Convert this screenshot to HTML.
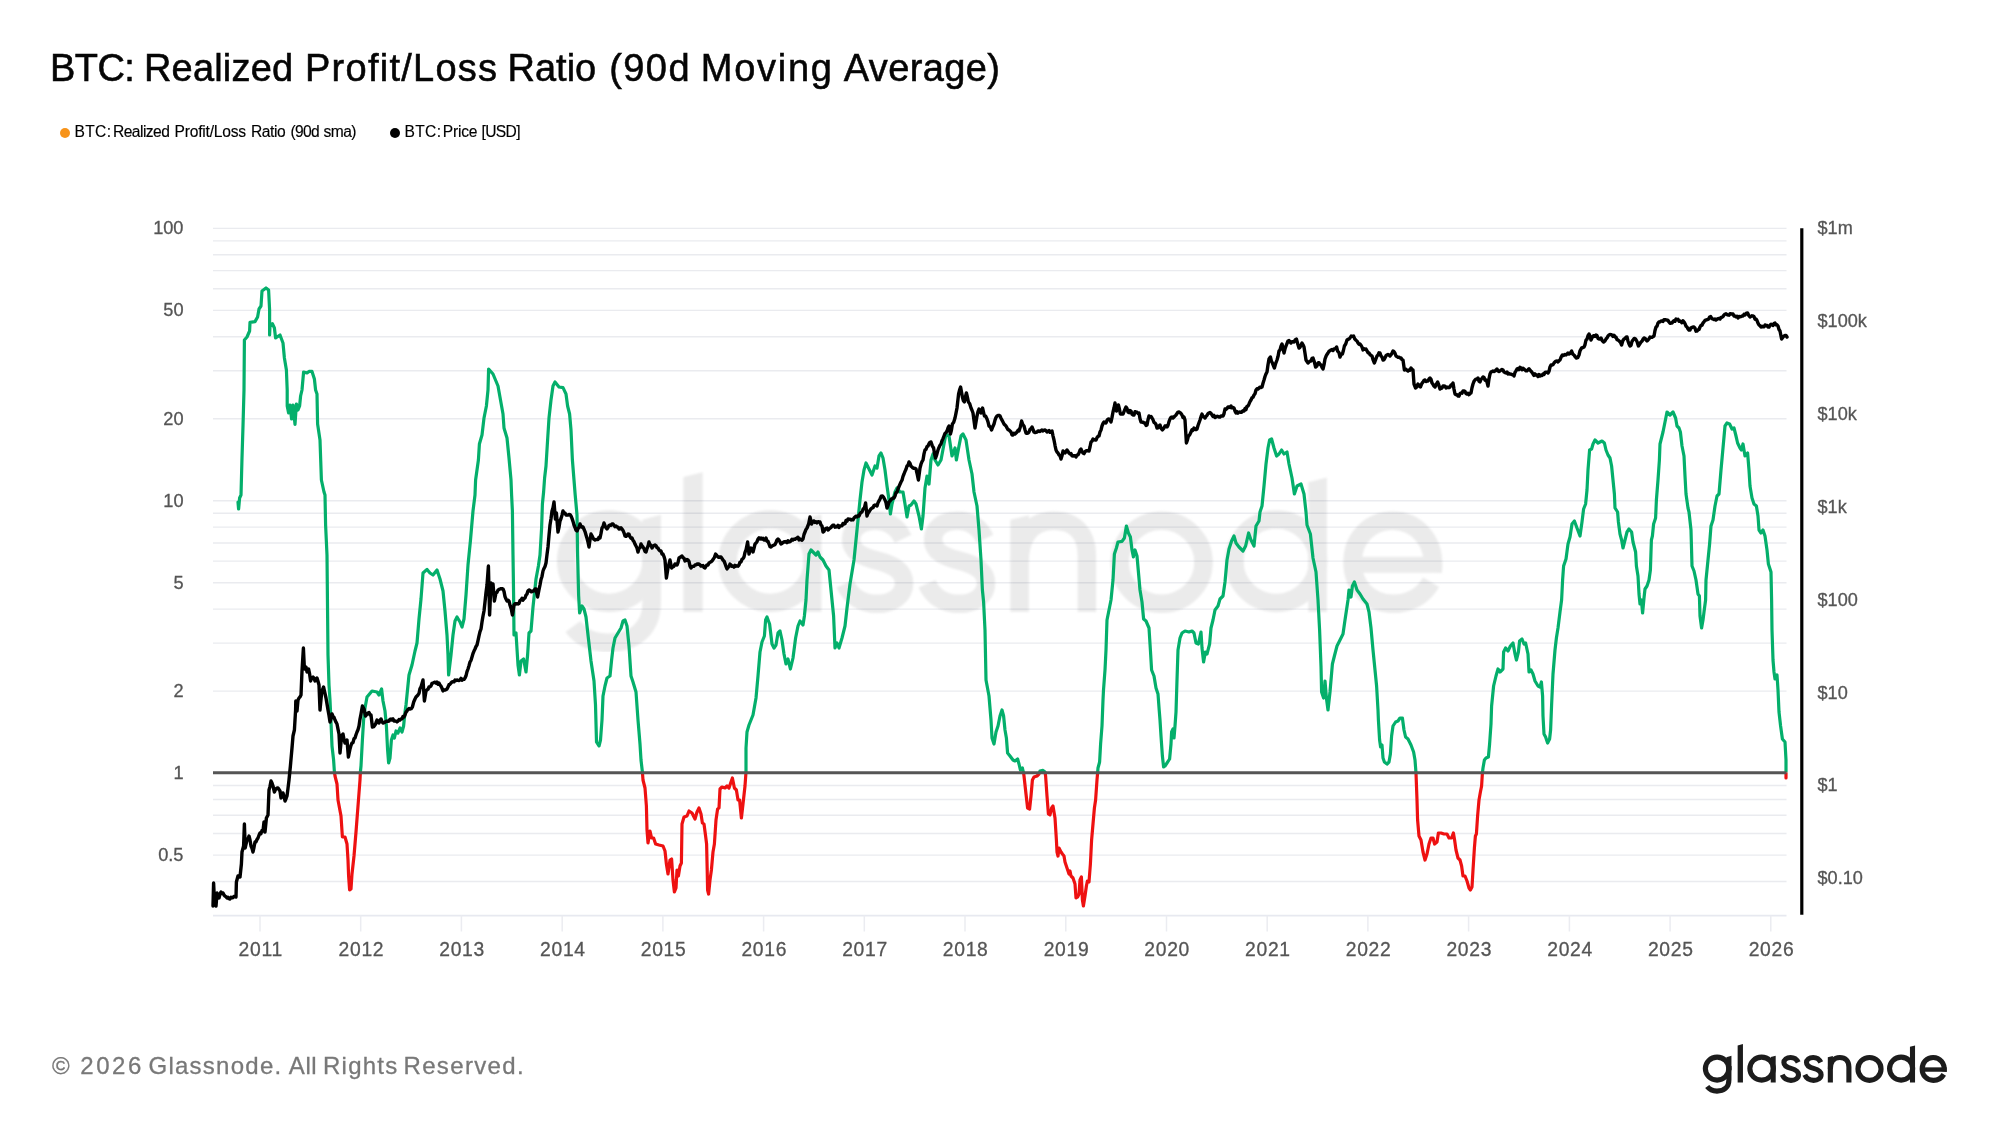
<!DOCTYPE html>
<html><head><meta charset="utf-8"><title>BTC: Realized Profit/Loss Ratio (90d Moving Average)</title>
<style>
html,body{margin:0;padding:0;background:#fff;}
body{width:2000px;height:1125px;position:relative;overflow:hidden;font-family:"Liberation Sans",sans-serif;}
.tw{position:absolute;top:44.4px;font-size:38px;line-height:48px;color:#050505;white-space:nowrap;-webkit-text-stroke:0.55px #050505;}
.lw{position:absolute;top:121.5px;font-size:15.6px;line-height:20px;color:#000;white-space:nowrap;-webkit-text-stroke:0.15px #000;}
.dot{position:absolute;width:10.4px;height:10.4px;border-radius:50%;}
.fw{position:absolute;top:1049.6px;font-size:24px;line-height:32px;color:#787878;white-space:nowrap;-webkit-text-stroke:0.3px #787878;}
#root{position:absolute;left:0;top:0;width:2000px;height:1125px;transform:translateZ(0);will-change:transform;}
svg{position:absolute;left:0;top:0;}
svg text{font-family:"Liberation Sans",sans-serif;}
</style></head>
<body>
<div id="root">
<div id="title"><span class="tw" style="left:50.0px;letter-spacing:-0.583px">BTC:</span><span class="tw" style="left:144.0px;letter-spacing:0.179px">Realized</span><span class="tw" style="left:305.0px;letter-spacing:1.25px">Profit/Loss</span><span class="tw" style="left:507.5px;letter-spacing:0.0px">Ratio</span><span class="tw" style="left:609.25px;letter-spacing:1.417px">(90d</span><span class="tw" style="left:700.75px;letter-spacing:1.75px">Moving</span><span class="tw" style="left:843.75px;letter-spacing:0.393px">Average)</span></div>
<span class="dot" style="left:59.9px;top:127.5px;background:#f7931a"></span>
<div id="leg1"><span class="lw" style="left:74.6px;letter-spacing:0.3px">BTC:</span><span class="lw" style="left:113.0px;letter-spacing:-0.543px">Realized</span><span class="lw" style="left:174.6px;letter-spacing:-0.21px">Profit/Loss</span><span class="lw" style="left:250.9px;letter-spacing:-0.425px">Ratio</span><span class="lw" style="left:290.6px;letter-spacing:-0.7px">(90d</span><span class="lw" style="left:323.4px;letter-spacing:-0.5px">sma)</span></div>
<span class="dot" style="left:390px;top:127.5px;background:#000"></span>
<div id="leg2"><span class="lw" style="left:404.5px;letter-spacing:0.333px">BTC:</span><span class="lw" style="left:442.75px;letter-spacing:-0.188px">Price</span><span class="lw" style="left:481.5px;letter-spacing:-0.625px">[USD]</span></div>
<svg width="2000" height="1125" viewBox="0 0 2000 1125">
<defs>
 <clipPath id="cg"><rect x="0" y="0" width="2000" height="772.6"/></clipPath>
 <clipPath id="cr"><rect x="0" y="772.6" width="2000" height="400"/></clipPath>
 <filter id="blur" x="-5%" y="-5%" width="110%" height="110%"><feGaussianBlur stdDeviation="0.25"/></filter>
 
<g id="gn" fill="none" stroke="currentColor" stroke-width="5.1" stroke-linecap="butt" stroke-linejoin="round">
 <!-- g -->
 <ellipse cx="1717.1" cy="1068.6" rx="11.75" ry="11.5"/>
 <path d="M1728.9 1066 V1080 C1728.9 1087.6 1723.6 1091.1 1717 1091.1 C1712.6 1091.1 1709.4 1089.6 1707.2 1086.6"/>
 <path fill="currentColor" stroke="none" d="M1726.35 1057.2 L1731.45 1055.8 V1070 H1726.35 Z"/>
 <!-- l -->
 <path fill="currentColor" stroke="none" d="M1737.65 1045.4 L1742.95 1044.1 V1082.6 H1737.65 Z"/>
 <!-- a -->
 <ellipse cx="1761.6" cy="1068.6" rx="11.75" ry="11.5"/>
 <path fill="currentColor" stroke="none" d="M1770.75 1057.0 L1775.7 1055.7 V1082.6 H1770.75 Z"/>
 <!-- s s -->
 <path id="gs" d="M1798.2 1062.4 C1796.6 1059 1794 1057.45 1790.6 1057.45 C1786.6 1057.45 1783.9 1059.6 1783.9 1062.6 C1783.9 1066 1787 1067.4 1791 1068.4 C1795.6 1069.6 1798.5 1071.2 1798.5 1074.7 C1798.5 1078 1795.4 1080.35 1791 1080.35 C1787 1080.35 1783.8 1078.4 1782.2 1074.8"/>
 <use href="#gs" x="22.6"/>
 <!-- n -->
 <path fill="currentColor" stroke="none" d="M1827.8 1057.2 L1832.9 1055.9 V1082.6 H1827.8 Z"/>
 <path d="M1830.35 1069 C1830.35 1061.5 1834 1057.45 1839.8 1057.45 C1845.4 1057.45 1848.9 1061 1848.9 1067 V1082.6"/>
 <!-- o -->
 <ellipse cx="1869.5" cy="1068.9" rx="11.55" ry="11.45"/>
 <!-- d -->
 <ellipse cx="1901.1" cy="1068.6" rx="11.55" ry="11.5"/>
 <path fill="currentColor" stroke="none" d="M1909.95 1046.8 L1915.05 1045.5 V1082.6 H1909.95 Z"/>
 <!-- e -->
 <path stroke-width="4.4" d="M1922.2 1069.55 H1946.6"/>
 <path d="M1944.25 1071.6 C1945.2 1063 1939.8 1057.45 1933.2 1057.45 C1926.8 1057.45 1922.15 1062.4 1922.15 1068.9 C1922.15 1075.4 1926.8 1080.35 1933.4 1080.35 C1937.8 1080.35 1941.6 1078.2 1943.8 1074.4"/>
</g>
</defs>
<!-- watermark -->
<g transform="translate(-5619.07 -3314.59) scale(3.627)"><use href="#gn" color="#ebebeb" filter="url(#blur)"/></g>
<!-- grid -->
<g stroke="rgba(30,40,90,0.095)" stroke-width="1.4"><line x1="213.0" x2="1786.5" y1="228.40" y2="228.40"/><line x1="213.0" x2="1786.5" y1="240.86" y2="240.86"/><line x1="213.0" x2="1786.5" y1="254.79" y2="254.79"/><line x1="213.0" x2="1786.5" y1="270.59" y2="270.59"/><line x1="213.0" x2="1786.5" y1="288.82" y2="288.82"/><line x1="213.0" x2="1786.5" y1="310.39" y2="310.39"/><line x1="213.0" x2="1786.5" y1="336.78" y2="336.78"/><line x1="213.0" x2="1786.5" y1="370.81" y2="370.81"/><line x1="213.0" x2="1786.5" y1="418.76" y2="418.76"/><line x1="213.0" x2="1786.5" y1="500.75" y2="500.75"/><line x1="213.0" x2="1786.5" y1="513.21" y2="513.21"/><line x1="213.0" x2="1786.5" y1="527.14" y2="527.14"/><line x1="213.0" x2="1786.5" y1="542.94" y2="542.94"/><line x1="213.0" x2="1786.5" y1="561.17" y2="561.17"/><line x1="213.0" x2="1786.5" y1="582.74" y2="582.74"/><line x1="213.0" x2="1786.5" y1="609.13" y2="609.13"/><line x1="213.0" x2="1786.5" y1="643.16" y2="643.16"/><line x1="213.0" x2="1786.5" y1="691.11" y2="691.11"/><line x1="213.0" x2="1786.5" y1="785.56" y2="785.56"/><line x1="213.0" x2="1786.5" y1="799.49" y2="799.49"/><line x1="213.0" x2="1786.5" y1="815.29" y2="815.29"/><line x1="213.0" x2="1786.5" y1="833.52" y2="833.52"/><line x1="213.0" x2="1786.5" y1="855.09" y2="855.09"/><line x1="213.0" x2="1786.5" y1="881.48" y2="881.48"/></g>
<line x1="213.0" x2="1786.5" y1="915.6" y2="915.6" stroke="#e7e9f0" stroke-width="1.9"/>
<g stroke="#ebecf1" stroke-width="1.5"><line x1="260.0" x2="260.0" y1="915.5" y2="931.5"/><line x1="360.7" x2="360.7" y1="915.5" y2="931.5"/><line x1="461.4" x2="461.4" y1="915.5" y2="931.5"/><line x1="562.2" x2="562.2" y1="915.5" y2="931.5"/><line x1="662.9" x2="662.9" y1="915.5" y2="931.5"/><line x1="763.6" x2="763.6" y1="915.5" y2="931.5"/><line x1="864.3" x2="864.3" y1="915.5" y2="931.5"/><line x1="965.0" x2="965.0" y1="915.5" y2="931.5"/><line x1="1065.8" x2="1065.8" y1="915.5" y2="931.5"/><line x1="1166.5" x2="1166.5" y1="915.5" y2="931.5"/><line x1="1267.2" x2="1267.2" y1="915.5" y2="931.5"/><line x1="1367.9" x2="1367.9" y1="915.5" y2="931.5"/><line x1="1468.6" x2="1468.6" y1="915.5" y2="931.5"/><line x1="1569.4" x2="1569.4" y1="915.5" y2="931.5"/><line x1="1670.1" x2="1670.1" y1="915.5" y2="931.5"/><line x1="1770.8" x2="1770.8" y1="915.5" y2="931.5"/></g>
<!-- ratio -->
<polyline clip-path="url(#cg)" points="238.0,502.0 238.6,509.0 239.6,498.0 241.0,495.0 242.0,458.0 243.0,426.0 244.0,390.0 244.4,340.0 247.0,337.0 249.6,331.0 250.0,322.4 255.0,321.6 257.6,317.0 259.0,309.0 261.0,306.0 262.0,291.0 266.0,288.0 268.6,290.0 269.6,310.0 269.6,335.0 270.0,326.0 272.4,323.6 274.4,328.0 275.6,338.0 280.0,335.0 283.0,343.0 284.4,358.0 286.4,370.0 287.2,390.0 287.2,406.0 288.6,413.0 290.0,405.0 291.6,419.0 293.0,405.0 295.0,424.4 296.4,404.0 298.0,410.0 299.6,406.0 300.6,396.0 302.0,390.0 303.6,372.0 307.0,373.0 309.0,371.4 312.0,371.4 314.4,379.0 315.6,390.0 317.0,394.0 317.6,424.0 320.0,440.0 321.4,480.0 324.0,492.0 325.0,495.0 325.6,525.0 327.0,555.0 327.6,615.0 328.0,655.0 329.0,685.0 330.0,700.0 331.0,722.0 332.0,746.0 333.6,760.0 334.4,772.0 335.0,776.0 337.0,784.0 338.0,800.0 341.0,816.0 342.4,837.0 345.0,837.0 347.0,844.0 348.0,860.0 348.6,876.0 349.6,890.0 351.0,889.0 352.0,874.0 354.0,856.0 356.0,832.0 358.0,806.0 360.0,780.0 360.4,772.0 361.0,766.0 362.4,740.0 363.6,720.0 365.0,708.0 367.0,697.0 372.0,691.0 377.0,692.0 379.0,695.0 381.6,689.0 383.0,701.0 385.0,711.0 386.4,726.0 387.6,750.0 388.6,763.0 390.0,758.0 391.4,740.0 393.0,735.0 394.4,738.0 396.0,731.0 398.0,733.0 400.0,728.0 402.0,732.0 403.6,726.0 405.0,712.0 406.0,705.0 409.0,675.0 412.0,665.0 415.0,651.0 417.0,643.0 419.0,619.0 421.0,599.0 423.0,573.0 427.0,569.4 430.0,573.0 433.0,575.0 437.0,570.0 440.0,579.0 443.0,591.0 445.0,611.0 447.0,635.0 448.0,655.0 448.6,675.0 451.0,655.0 453.0,635.0 455.0,621.0 457.0,617.0 460.0,622.0 462.0,627.0 464.0,619.0 466.0,595.0 468.0,565.0 470.4,541.0 473.0,511.0 475.0,495.0 475.6,480.0 478.4,460.0 479.4,444.0 482.0,435.0 484.0,418.0 486.4,406.0 488.0,390.0 488.6,369.0 493.0,374.0 498.0,386.0 503.0,414.0 504.0,428.0 507.0,438.0 509.0,458.0 511.0,480.0 511.6,495.0 512.4,511.0 513.0,555.0 513.6,595.0 514.0,635.0 516.0,633.0 518.0,665.0 519.4,675.0 521.0,661.0 523.6,659.0 526.0,672.0 527.6,655.0 529.0,633.0 531.0,631.0 533.0,607.0 536.0,579.0 538.4,566.0 540.0,555.0 541.6,528.0 542.4,504.0 543.6,492.0 544.6,478.0 546.0,466.0 547.6,440.0 549.0,418.0 551.0,400.0 553.0,386.0 555.0,382.0 559.0,387.0 563.0,387.6 566.0,394.0 567.6,406.0 569.6,414.0 571.0,430.0 572.4,460.0 574.0,480.0 575.2,495.0 577.0,515.0 577.6,555.0 578.6,595.0 579.6,613.0 582.0,606.0 584.0,609.0 586.0,617.0 588.0,635.0 591.0,661.0 594.0,681.0 595.5,705.0 596.5,742.0 599.0,746.0 600.5,740.0 602.0,720.0 603.0,696.0 605.0,686.0 607.0,678.0 610.0,676.0 611.6,660.0 613.0,648.0 615.0,638.0 618.0,633.0 621.0,628.0 623.0,621.0 625.0,620.0 627.0,626.0 629.0,646.0 631.0,676.0 633.0,682.0 636.0,692.0 638.0,720.0 640.0,744.0 641.0,760.0 642.4,772.0 643.0,780.0 645.0,788.0 646.4,806.0 647.0,830.0 648.0,843.0 650.0,831.0 651.6,838.0 653.6,838.0 655.6,844.0 659.0,845.0 663.0,846.0 665.0,851.0 666.4,864.0 668.0,874.0 670.0,860.0 671.6,859.0 673.0,880.0 674.4,892.0 676.0,888.0 677.0,870.0 678.4,876.0 680.0,866.0 681.4,863.0 682.0,824.0 684.0,817.0 687.0,816.0 689.0,811.0 692.0,813.0 695.0,819.0 697.0,812.0 699.0,808.0 701.0,814.0 702.4,823.0 704.0,824.0 705.6,836.0 706.6,844.0 707.2,870.0 707.6,890.0 708.6,894.0 710.0,880.0 711.4,870.0 713.0,852.0 714.4,844.0 716.0,820.0 717.6,809.0 719.0,808.0 720.0,789.0 722.0,787.0 725.0,788.0 727.0,786.0 729.0,788.0 731.0,782.0 732.4,778.0 734.4,788.0 736.4,790.0 738.0,800.0 739.6,800.0 741.4,818.0 743.0,804.0 745.0,786.0 746.0,772.0 746.0,748.0 747.0,732.0 749.0,725.0 753.0,715.0 756.0,698.0 758.0,676.0 760.0,652.0 762.0,642.0 764.4,636.0 765.6,620.0 767.0,617.0 769.6,624.0 772.0,644.0 774.0,648.0 776.0,645.0 778.0,633.0 780.0,631.0 782.0,640.0 784.0,654.0 786.0,664.0 788.0,659.0 790.4,669.0 793.0,658.0 795.6,638.0 798.0,626.0 800.0,621.0 803.0,625.0 804.4,616.0 806.0,600.0 807.0,580.0 809.0,554.0 811.0,550.0 814.0,553.0 816.0,555.0 818.0,552.0 820.0,557.0 823.0,560.0 826.0,566.0 829.0,570.0 831.0,590.0 832.0,600.0 833.6,616.0 835.0,648.0 837.0,643.0 839.0,648.0 842.0,638.0 845.0,626.0 847.0,608.0 850.0,584.0 854.0,560.0 856.0,540.0 858.0,520.0 860.0,500.0 862.0,482.0 864.0,470.0 866.0,463.0 869.0,469.0 872.0,475.0 875.0,466.0 877.0,468.0 879.0,456.0 881.0,453.0 883.0,458.0 885.0,470.0 887.0,486.0 889.0,500.0 890.4,514.0 892.0,504.0 895.0,492.0 897.0,488.0 900.0,492.0 903.0,492.0 905.0,504.0 907.0,517.0 909.0,506.0 911.0,505.0 914.0,501.0 916.0,504.0 919.0,516.0 921.4,529.0 923.0,516.0 925.0,488.0 927.0,476.0 929.0,484.0 931.0,460.0 933.0,454.0 935.0,460.0 938.0,465.0 941.0,460.0 944.0,444.0 946.0,434.0 949.0,436.0 952.0,456.0 955.0,448.0 956.4,460.0 959.0,446.0 961.0,436.0 963.0,434.0 966.0,440.0 969.0,460.0 972.0,474.0 974.0,492.0 977.0,506.0 979.0,530.0 981.0,560.0 982.4,590.0 983.6,602.0 985.0,630.0 986.0,680.0 989.0,696.0 991.0,720.0 992.0,738.0 994.0,744.0 996.0,732.0 998.0,726.0 1000.0,716.0 1002.0,710.0 1003.6,716.0 1005.0,730.0 1006.4,738.0 1007.6,753.0 1010.0,756.0 1013.0,760.0 1015.0,761.0 1017.6,759.0 1019.0,764.0 1020.4,770.0 1022.4,768.0 1023.6,773.0 1024.0,776.0 1026.0,794.0 1027.6,808.0 1029.6,809.0 1031.0,796.0 1032.4,780.0 1034.0,777.0 1037.0,776.0 1039.0,774.0 1040.0,771.0 1043.0,770.4 1045.0,772.0 1045.6,776.0 1047.0,796.0 1048.4,814.0 1050.0,815.0 1051.6,808.0 1053.0,806.0 1055.0,818.0 1056.4,840.0 1057.0,852.0 1058.0,856.0 1059.0,848.0 1061.0,852.0 1062.4,854.0 1064.0,856.0 1065.0,862.0 1067.0,868.0 1069.0,874.0 1070.0,871.0 1071.0,876.0 1073.0,878.0 1075.0,884.0 1076.0,898.0 1077.6,897.0 1079.0,894.0 1080.0,880.0 1081.4,877.0 1082.4,900.0 1083.4,906.0 1085.0,896.0 1086.4,886.0 1087.4,881.0 1089.0,882.0 1090.4,864.0 1091.6,840.0 1093.0,824.0 1094.4,808.0 1095.6,800.0 1097.0,780.0 1097.6,773.0 1098.0,768.0 1099.6,762.0 1100.6,744.0 1102.0,726.0 1103.0,700.0 1103.5,690.0 1105.0,670.0 1106.0,650.0 1107.0,620.0 1109.0,610.0 1111.0,600.0 1113.0,580.0 1114.4,554.0 1116.4,548.0 1118.0,542.0 1122.0,541.4 1124.4,538.0 1126.4,526.0 1128.4,533.0 1130.4,537.0 1132.0,550.0 1133.4,557.0 1135.0,550.0 1137.0,556.0 1138.6,574.0 1140.0,590.0 1142.0,602.0 1143.6,619.0 1146.0,621.0 1149.0,628.0 1150.4,650.0 1151.6,670.0 1154.0,676.0 1156.0,688.0 1158.0,694.0 1159.2,710.0 1160.0,720.0 1161.0,736.0 1162.4,756.0 1163.6,767.0 1165.0,766.0 1167.0,763.0 1169.6,759.0 1171.0,744.0 1171.6,732.0 1173.0,729.0 1174.0,738.0 1175.0,726.0 1176.0,712.0 1177.0,680.0 1178.0,650.0 1180.0,638.0 1182.0,633.0 1185.0,631.0 1189.0,632.0 1192.0,631.0 1194.0,633.0 1196.0,643.0 1198.4,644.0 1201.0,632.0 1202.0,648.0 1203.6,662.0 1205.4,652.0 1207.0,654.0 1209.6,644.0 1211.0,628.0 1213.0,620.0 1215.0,610.0 1218.0,606.0 1220.0,599.0 1223.0,596.0 1225.0,582.0 1227.0,560.0 1229.0,549.0 1231.6,541.0 1234.0,536.0 1236.0,543.0 1239.0,547.0 1243.0,551.0 1245.6,546.0 1248.6,533.0 1251.0,540.0 1254.0,546.0 1256.0,526.0 1259.0,521.0 1260.0,512.0 1262.0,506.0 1264.0,486.0 1266.0,464.0 1268.0,448.0 1269.6,440.0 1271.6,439.0 1274.0,448.0 1276.6,456.0 1279.0,454.0 1281.6,450.0 1284.0,454.0 1287.0,452.0 1289.0,464.0 1292.0,478.0 1294.4,494.0 1297.0,486.0 1301.0,484.0 1304.0,494.0 1306.0,512.0 1307.0,525.0 1310.4,534.0 1313.0,558.0 1316.0,572.0 1318.0,600.0 1319.6,630.0 1321.0,666.0 1321.6,692.0 1323.6,698.0 1325.0,681.0 1326.4,698.0 1328.0,710.0 1330.0,692.0 1332.4,664.0 1334.4,656.0 1337.0,646.0 1340.0,640.0 1343.0,634.0 1345.0,620.0 1348.0,600.0 1349.0,590.0 1351.0,597.0 1352.4,586.0 1354.4,582.0 1357.0,590.0 1360.0,594.0 1363.0,599.0 1367.0,604.0 1369.0,612.0 1371.0,628.0 1373.0,650.0 1375.0,670.0 1376.6,686.0 1378.0,710.0 1378.4,720.0 1379.6,740.0 1380.6,747.0 1382.0,745.0 1383.0,758.0 1384.4,762.0 1387.0,764.0 1389.0,762.0 1390.4,754.0 1391.6,736.0 1393.0,726.0 1395.6,722.0 1398.0,721.0 1400.0,718.0 1402.4,718.0 1404.0,730.0 1405.6,737.0 1408.0,739.0 1411.0,745.0 1413.6,752.0 1415.0,760.0 1416.0,773.0 1417.0,800.0 1417.6,820.0 1419.0,836.0 1421.0,840.0 1423.0,852.0 1425.0,860.0 1427.0,854.0 1429.0,844.0 1431.0,838.0 1433.0,838.0 1434.6,844.0 1437.0,842.0 1438.4,833.0 1441.0,833.0 1444.0,834.0 1447.0,834.0 1449.0,838.0 1451.6,838.0 1453.4,833.0 1454.6,840.0 1456.0,850.0 1458.0,858.0 1460.0,860.0 1461.6,866.0 1463.0,876.0 1465.0,876.0 1467.0,881.0 1469.0,888.0 1470.4,890.0 1472.0,887.0 1473.0,870.0 1474.4,848.0 1475.4,836.0 1476.4,834.0 1477.6,816.0 1479.0,800.0 1480.4,792.0 1481.6,786.0 1482.4,773.0 1483.0,768.0 1484.4,760.0 1486.0,758.0 1488.4,757.0 1489.6,744.0 1491.0,724.0 1491.6,706.0 1493.6,686.0 1496.0,676.0 1498.0,669.0 1500.0,672.0 1503.0,669.0 1503.6,652.0 1505.6,648.0 1508.0,651.0 1510.4,646.0 1513.0,643.0 1515.0,654.0 1516.4,660.0 1518.4,652.0 1519.6,641.0 1522.0,639.0 1524.0,644.0 1525.6,643.0 1528.0,654.0 1529.0,672.0 1531.0,670.0 1533.0,674.0 1535.0,681.0 1538.0,686.0 1540.0,687.0 1541.4,682.0 1542.6,696.0 1543.0,716.0 1544.0,734.0 1545.6,737.0 1547.6,743.0 1549.6,739.0 1550.6,730.0 1551.6,705.0 1553.0,674.0 1555.0,650.0 1556.4,638.0 1558.0,628.0 1560.0,612.0 1561.6,600.0 1562.6,580.0 1563.6,566.0 1566.0,559.0 1568.0,544.0 1570.0,537.0 1572.0,524.0 1574.4,521.0 1577.0,528.0 1580.0,536.0 1582.0,522.0 1583.6,509.0 1585.6,504.0 1587.0,490.0 1588.0,470.0 1589.6,450.0 1591.6,449.0 1593.0,444.0 1595.0,440.0 1598.0,443.0 1602.0,441.0 1604.4,443.0 1606.0,450.0 1608.0,455.0 1610.0,458.0 1611.6,466.0 1613.0,480.0 1614.4,494.0 1615.0,508.0 1617.6,512.0 1618.4,522.0 1620.0,534.0 1621.6,540.0 1623.0,548.0 1625.0,540.0 1627.0,532.0 1629.0,529.0 1631.6,532.0 1633.0,542.0 1635.6,552.0 1636.4,566.0 1638.0,576.0 1639.0,594.0 1640.0,604.0 1641.4,600.0 1642.6,613.0 1644.0,598.0 1645.0,589.0 1647.0,586.0 1649.0,580.0 1650.4,570.0 1651.4,540.0 1652.4,536.0 1653.6,524.0 1655.6,518.0 1656.4,500.0 1658.0,480.0 1659.4,460.0 1660.0,444.0 1663.0,432.0 1665.0,422.0 1667.0,412.0 1670.0,415.0 1673.0,412.0 1675.6,418.0 1677.0,426.0 1679.0,428.0 1680.4,432.0 1682.0,446.0 1684.0,456.0 1685.0,476.0 1686.0,494.0 1688.0,508.0 1689.0,512.0 1691.0,530.0 1692.0,566.0 1694.0,571.0 1696.0,580.0 1698.0,594.0 1699.4,596.0 1700.0,616.0 1701.6,628.0 1703.0,620.0 1704.0,612.0 1705.6,600.0 1706.0,580.0 1708.0,560.0 1709.6,544.0 1711.0,526.0 1713.0,520.0 1715.0,506.0 1717.0,496.0 1719.0,494.0 1721.0,470.0 1723.0,448.0 1725.0,426.0 1727.0,423.0 1729.6,424.0 1732.0,429.0 1734.0,428.0 1736.0,436.0 1737.6,443.0 1740.0,448.0 1741.4,450.0 1743.0,444.0 1745.0,456.0 1747.6,453.0 1749.0,470.0 1750.0,486.0 1752.0,498.0 1754.0,504.0 1756.4,506.0 1758.0,516.0 1759.0,530.0 1761.0,533.0 1763.0,530.0 1765.0,536.0 1767.0,550.0 1768.4,564.0 1771.0,572.0 1771.6,600.0 1772.0,630.0 1773.0,660.0 1774.0,672.0 1775.0,679.0 1777.0,675.0 1778.0,690.0 1779.0,712.0 1780.6,726.0 1782.4,739.0 1785.0,742.0 1786.0,760.0 1786.0,778.0" fill="none" stroke="#04af6b" stroke-width="3.2" stroke-linejoin="round" stroke-linecap="round"/>
<polyline clip-path="url(#cr)" points="238.0,502.0 238.6,509.0 239.6,498.0 241.0,495.0 242.0,458.0 243.0,426.0 244.0,390.0 244.4,340.0 247.0,337.0 249.6,331.0 250.0,322.4 255.0,321.6 257.6,317.0 259.0,309.0 261.0,306.0 262.0,291.0 266.0,288.0 268.6,290.0 269.6,310.0 269.6,335.0 270.0,326.0 272.4,323.6 274.4,328.0 275.6,338.0 280.0,335.0 283.0,343.0 284.4,358.0 286.4,370.0 287.2,390.0 287.2,406.0 288.6,413.0 290.0,405.0 291.6,419.0 293.0,405.0 295.0,424.4 296.4,404.0 298.0,410.0 299.6,406.0 300.6,396.0 302.0,390.0 303.6,372.0 307.0,373.0 309.0,371.4 312.0,371.4 314.4,379.0 315.6,390.0 317.0,394.0 317.6,424.0 320.0,440.0 321.4,480.0 324.0,492.0 325.0,495.0 325.6,525.0 327.0,555.0 327.6,615.0 328.0,655.0 329.0,685.0 330.0,700.0 331.0,722.0 332.0,746.0 333.6,760.0 334.4,772.0 335.0,776.0 337.0,784.0 338.0,800.0 341.0,816.0 342.4,837.0 345.0,837.0 347.0,844.0 348.0,860.0 348.6,876.0 349.6,890.0 351.0,889.0 352.0,874.0 354.0,856.0 356.0,832.0 358.0,806.0 360.0,780.0 360.4,772.0 361.0,766.0 362.4,740.0 363.6,720.0 365.0,708.0 367.0,697.0 372.0,691.0 377.0,692.0 379.0,695.0 381.6,689.0 383.0,701.0 385.0,711.0 386.4,726.0 387.6,750.0 388.6,763.0 390.0,758.0 391.4,740.0 393.0,735.0 394.4,738.0 396.0,731.0 398.0,733.0 400.0,728.0 402.0,732.0 403.6,726.0 405.0,712.0 406.0,705.0 409.0,675.0 412.0,665.0 415.0,651.0 417.0,643.0 419.0,619.0 421.0,599.0 423.0,573.0 427.0,569.4 430.0,573.0 433.0,575.0 437.0,570.0 440.0,579.0 443.0,591.0 445.0,611.0 447.0,635.0 448.0,655.0 448.6,675.0 451.0,655.0 453.0,635.0 455.0,621.0 457.0,617.0 460.0,622.0 462.0,627.0 464.0,619.0 466.0,595.0 468.0,565.0 470.4,541.0 473.0,511.0 475.0,495.0 475.6,480.0 478.4,460.0 479.4,444.0 482.0,435.0 484.0,418.0 486.4,406.0 488.0,390.0 488.6,369.0 493.0,374.0 498.0,386.0 503.0,414.0 504.0,428.0 507.0,438.0 509.0,458.0 511.0,480.0 511.6,495.0 512.4,511.0 513.0,555.0 513.6,595.0 514.0,635.0 516.0,633.0 518.0,665.0 519.4,675.0 521.0,661.0 523.6,659.0 526.0,672.0 527.6,655.0 529.0,633.0 531.0,631.0 533.0,607.0 536.0,579.0 538.4,566.0 540.0,555.0 541.6,528.0 542.4,504.0 543.6,492.0 544.6,478.0 546.0,466.0 547.6,440.0 549.0,418.0 551.0,400.0 553.0,386.0 555.0,382.0 559.0,387.0 563.0,387.6 566.0,394.0 567.6,406.0 569.6,414.0 571.0,430.0 572.4,460.0 574.0,480.0 575.2,495.0 577.0,515.0 577.6,555.0 578.6,595.0 579.6,613.0 582.0,606.0 584.0,609.0 586.0,617.0 588.0,635.0 591.0,661.0 594.0,681.0 595.5,705.0 596.5,742.0 599.0,746.0 600.5,740.0 602.0,720.0 603.0,696.0 605.0,686.0 607.0,678.0 610.0,676.0 611.6,660.0 613.0,648.0 615.0,638.0 618.0,633.0 621.0,628.0 623.0,621.0 625.0,620.0 627.0,626.0 629.0,646.0 631.0,676.0 633.0,682.0 636.0,692.0 638.0,720.0 640.0,744.0 641.0,760.0 642.4,772.0 643.0,780.0 645.0,788.0 646.4,806.0 647.0,830.0 648.0,843.0 650.0,831.0 651.6,838.0 653.6,838.0 655.6,844.0 659.0,845.0 663.0,846.0 665.0,851.0 666.4,864.0 668.0,874.0 670.0,860.0 671.6,859.0 673.0,880.0 674.4,892.0 676.0,888.0 677.0,870.0 678.4,876.0 680.0,866.0 681.4,863.0 682.0,824.0 684.0,817.0 687.0,816.0 689.0,811.0 692.0,813.0 695.0,819.0 697.0,812.0 699.0,808.0 701.0,814.0 702.4,823.0 704.0,824.0 705.6,836.0 706.6,844.0 707.2,870.0 707.6,890.0 708.6,894.0 710.0,880.0 711.4,870.0 713.0,852.0 714.4,844.0 716.0,820.0 717.6,809.0 719.0,808.0 720.0,789.0 722.0,787.0 725.0,788.0 727.0,786.0 729.0,788.0 731.0,782.0 732.4,778.0 734.4,788.0 736.4,790.0 738.0,800.0 739.6,800.0 741.4,818.0 743.0,804.0 745.0,786.0 746.0,772.0 746.0,748.0 747.0,732.0 749.0,725.0 753.0,715.0 756.0,698.0 758.0,676.0 760.0,652.0 762.0,642.0 764.4,636.0 765.6,620.0 767.0,617.0 769.6,624.0 772.0,644.0 774.0,648.0 776.0,645.0 778.0,633.0 780.0,631.0 782.0,640.0 784.0,654.0 786.0,664.0 788.0,659.0 790.4,669.0 793.0,658.0 795.6,638.0 798.0,626.0 800.0,621.0 803.0,625.0 804.4,616.0 806.0,600.0 807.0,580.0 809.0,554.0 811.0,550.0 814.0,553.0 816.0,555.0 818.0,552.0 820.0,557.0 823.0,560.0 826.0,566.0 829.0,570.0 831.0,590.0 832.0,600.0 833.6,616.0 835.0,648.0 837.0,643.0 839.0,648.0 842.0,638.0 845.0,626.0 847.0,608.0 850.0,584.0 854.0,560.0 856.0,540.0 858.0,520.0 860.0,500.0 862.0,482.0 864.0,470.0 866.0,463.0 869.0,469.0 872.0,475.0 875.0,466.0 877.0,468.0 879.0,456.0 881.0,453.0 883.0,458.0 885.0,470.0 887.0,486.0 889.0,500.0 890.4,514.0 892.0,504.0 895.0,492.0 897.0,488.0 900.0,492.0 903.0,492.0 905.0,504.0 907.0,517.0 909.0,506.0 911.0,505.0 914.0,501.0 916.0,504.0 919.0,516.0 921.4,529.0 923.0,516.0 925.0,488.0 927.0,476.0 929.0,484.0 931.0,460.0 933.0,454.0 935.0,460.0 938.0,465.0 941.0,460.0 944.0,444.0 946.0,434.0 949.0,436.0 952.0,456.0 955.0,448.0 956.4,460.0 959.0,446.0 961.0,436.0 963.0,434.0 966.0,440.0 969.0,460.0 972.0,474.0 974.0,492.0 977.0,506.0 979.0,530.0 981.0,560.0 982.4,590.0 983.6,602.0 985.0,630.0 986.0,680.0 989.0,696.0 991.0,720.0 992.0,738.0 994.0,744.0 996.0,732.0 998.0,726.0 1000.0,716.0 1002.0,710.0 1003.6,716.0 1005.0,730.0 1006.4,738.0 1007.6,753.0 1010.0,756.0 1013.0,760.0 1015.0,761.0 1017.6,759.0 1019.0,764.0 1020.4,770.0 1022.4,768.0 1023.6,773.0 1024.0,776.0 1026.0,794.0 1027.6,808.0 1029.6,809.0 1031.0,796.0 1032.4,780.0 1034.0,777.0 1037.0,776.0 1039.0,774.0 1040.0,771.0 1043.0,770.4 1045.0,772.0 1045.6,776.0 1047.0,796.0 1048.4,814.0 1050.0,815.0 1051.6,808.0 1053.0,806.0 1055.0,818.0 1056.4,840.0 1057.0,852.0 1058.0,856.0 1059.0,848.0 1061.0,852.0 1062.4,854.0 1064.0,856.0 1065.0,862.0 1067.0,868.0 1069.0,874.0 1070.0,871.0 1071.0,876.0 1073.0,878.0 1075.0,884.0 1076.0,898.0 1077.6,897.0 1079.0,894.0 1080.0,880.0 1081.4,877.0 1082.4,900.0 1083.4,906.0 1085.0,896.0 1086.4,886.0 1087.4,881.0 1089.0,882.0 1090.4,864.0 1091.6,840.0 1093.0,824.0 1094.4,808.0 1095.6,800.0 1097.0,780.0 1097.6,773.0 1098.0,768.0 1099.6,762.0 1100.6,744.0 1102.0,726.0 1103.0,700.0 1103.5,690.0 1105.0,670.0 1106.0,650.0 1107.0,620.0 1109.0,610.0 1111.0,600.0 1113.0,580.0 1114.4,554.0 1116.4,548.0 1118.0,542.0 1122.0,541.4 1124.4,538.0 1126.4,526.0 1128.4,533.0 1130.4,537.0 1132.0,550.0 1133.4,557.0 1135.0,550.0 1137.0,556.0 1138.6,574.0 1140.0,590.0 1142.0,602.0 1143.6,619.0 1146.0,621.0 1149.0,628.0 1150.4,650.0 1151.6,670.0 1154.0,676.0 1156.0,688.0 1158.0,694.0 1159.2,710.0 1160.0,720.0 1161.0,736.0 1162.4,756.0 1163.6,767.0 1165.0,766.0 1167.0,763.0 1169.6,759.0 1171.0,744.0 1171.6,732.0 1173.0,729.0 1174.0,738.0 1175.0,726.0 1176.0,712.0 1177.0,680.0 1178.0,650.0 1180.0,638.0 1182.0,633.0 1185.0,631.0 1189.0,632.0 1192.0,631.0 1194.0,633.0 1196.0,643.0 1198.4,644.0 1201.0,632.0 1202.0,648.0 1203.6,662.0 1205.4,652.0 1207.0,654.0 1209.6,644.0 1211.0,628.0 1213.0,620.0 1215.0,610.0 1218.0,606.0 1220.0,599.0 1223.0,596.0 1225.0,582.0 1227.0,560.0 1229.0,549.0 1231.6,541.0 1234.0,536.0 1236.0,543.0 1239.0,547.0 1243.0,551.0 1245.6,546.0 1248.6,533.0 1251.0,540.0 1254.0,546.0 1256.0,526.0 1259.0,521.0 1260.0,512.0 1262.0,506.0 1264.0,486.0 1266.0,464.0 1268.0,448.0 1269.6,440.0 1271.6,439.0 1274.0,448.0 1276.6,456.0 1279.0,454.0 1281.6,450.0 1284.0,454.0 1287.0,452.0 1289.0,464.0 1292.0,478.0 1294.4,494.0 1297.0,486.0 1301.0,484.0 1304.0,494.0 1306.0,512.0 1307.0,525.0 1310.4,534.0 1313.0,558.0 1316.0,572.0 1318.0,600.0 1319.6,630.0 1321.0,666.0 1321.6,692.0 1323.6,698.0 1325.0,681.0 1326.4,698.0 1328.0,710.0 1330.0,692.0 1332.4,664.0 1334.4,656.0 1337.0,646.0 1340.0,640.0 1343.0,634.0 1345.0,620.0 1348.0,600.0 1349.0,590.0 1351.0,597.0 1352.4,586.0 1354.4,582.0 1357.0,590.0 1360.0,594.0 1363.0,599.0 1367.0,604.0 1369.0,612.0 1371.0,628.0 1373.0,650.0 1375.0,670.0 1376.6,686.0 1378.0,710.0 1378.4,720.0 1379.6,740.0 1380.6,747.0 1382.0,745.0 1383.0,758.0 1384.4,762.0 1387.0,764.0 1389.0,762.0 1390.4,754.0 1391.6,736.0 1393.0,726.0 1395.6,722.0 1398.0,721.0 1400.0,718.0 1402.4,718.0 1404.0,730.0 1405.6,737.0 1408.0,739.0 1411.0,745.0 1413.6,752.0 1415.0,760.0 1416.0,773.0 1417.0,800.0 1417.6,820.0 1419.0,836.0 1421.0,840.0 1423.0,852.0 1425.0,860.0 1427.0,854.0 1429.0,844.0 1431.0,838.0 1433.0,838.0 1434.6,844.0 1437.0,842.0 1438.4,833.0 1441.0,833.0 1444.0,834.0 1447.0,834.0 1449.0,838.0 1451.6,838.0 1453.4,833.0 1454.6,840.0 1456.0,850.0 1458.0,858.0 1460.0,860.0 1461.6,866.0 1463.0,876.0 1465.0,876.0 1467.0,881.0 1469.0,888.0 1470.4,890.0 1472.0,887.0 1473.0,870.0 1474.4,848.0 1475.4,836.0 1476.4,834.0 1477.6,816.0 1479.0,800.0 1480.4,792.0 1481.6,786.0 1482.4,773.0 1483.0,768.0 1484.4,760.0 1486.0,758.0 1488.4,757.0 1489.6,744.0 1491.0,724.0 1491.6,706.0 1493.6,686.0 1496.0,676.0 1498.0,669.0 1500.0,672.0 1503.0,669.0 1503.6,652.0 1505.6,648.0 1508.0,651.0 1510.4,646.0 1513.0,643.0 1515.0,654.0 1516.4,660.0 1518.4,652.0 1519.6,641.0 1522.0,639.0 1524.0,644.0 1525.6,643.0 1528.0,654.0 1529.0,672.0 1531.0,670.0 1533.0,674.0 1535.0,681.0 1538.0,686.0 1540.0,687.0 1541.4,682.0 1542.6,696.0 1543.0,716.0 1544.0,734.0 1545.6,737.0 1547.6,743.0 1549.6,739.0 1550.6,730.0 1551.6,705.0 1553.0,674.0 1555.0,650.0 1556.4,638.0 1558.0,628.0 1560.0,612.0 1561.6,600.0 1562.6,580.0 1563.6,566.0 1566.0,559.0 1568.0,544.0 1570.0,537.0 1572.0,524.0 1574.4,521.0 1577.0,528.0 1580.0,536.0 1582.0,522.0 1583.6,509.0 1585.6,504.0 1587.0,490.0 1588.0,470.0 1589.6,450.0 1591.6,449.0 1593.0,444.0 1595.0,440.0 1598.0,443.0 1602.0,441.0 1604.4,443.0 1606.0,450.0 1608.0,455.0 1610.0,458.0 1611.6,466.0 1613.0,480.0 1614.4,494.0 1615.0,508.0 1617.6,512.0 1618.4,522.0 1620.0,534.0 1621.6,540.0 1623.0,548.0 1625.0,540.0 1627.0,532.0 1629.0,529.0 1631.6,532.0 1633.0,542.0 1635.6,552.0 1636.4,566.0 1638.0,576.0 1639.0,594.0 1640.0,604.0 1641.4,600.0 1642.6,613.0 1644.0,598.0 1645.0,589.0 1647.0,586.0 1649.0,580.0 1650.4,570.0 1651.4,540.0 1652.4,536.0 1653.6,524.0 1655.6,518.0 1656.4,500.0 1658.0,480.0 1659.4,460.0 1660.0,444.0 1663.0,432.0 1665.0,422.0 1667.0,412.0 1670.0,415.0 1673.0,412.0 1675.6,418.0 1677.0,426.0 1679.0,428.0 1680.4,432.0 1682.0,446.0 1684.0,456.0 1685.0,476.0 1686.0,494.0 1688.0,508.0 1689.0,512.0 1691.0,530.0 1692.0,566.0 1694.0,571.0 1696.0,580.0 1698.0,594.0 1699.4,596.0 1700.0,616.0 1701.6,628.0 1703.0,620.0 1704.0,612.0 1705.6,600.0 1706.0,580.0 1708.0,560.0 1709.6,544.0 1711.0,526.0 1713.0,520.0 1715.0,506.0 1717.0,496.0 1719.0,494.0 1721.0,470.0 1723.0,448.0 1725.0,426.0 1727.0,423.0 1729.6,424.0 1732.0,429.0 1734.0,428.0 1736.0,436.0 1737.6,443.0 1740.0,448.0 1741.4,450.0 1743.0,444.0 1745.0,456.0 1747.6,453.0 1749.0,470.0 1750.0,486.0 1752.0,498.0 1754.0,504.0 1756.4,506.0 1758.0,516.0 1759.0,530.0 1761.0,533.0 1763.0,530.0 1765.0,536.0 1767.0,550.0 1768.4,564.0 1771.0,572.0 1771.6,600.0 1772.0,630.0 1773.0,660.0 1774.0,672.0 1775.0,679.0 1777.0,675.0 1778.0,690.0 1779.0,712.0 1780.6,726.0 1782.4,739.0 1785.0,742.0 1786.0,760.0 1786.0,778.0" fill="none" stroke="#ee1111" stroke-width="3.2" stroke-linejoin="round" stroke-linecap="round"/>
<!-- ratio=1 line -->
<line x1="213.0" x2="1786.5" y1="772.7" y2="772.7" stroke="#555" stroke-width="3"/>
<!-- price -->
<polyline points="213.0,906.0 213.6,883.0 214.4,900.0 216.0,906.0 217.0,893.0 218.0,895.0 219.0,898.0 220.0,894.1 221.0,892.0 222.0,893.4 223.0,892.9 224.0,895.0 225.0,896.1 226.0,896.7 227.0,898.0 228.0,897.2 229.0,898.7 230.0,899.0 231.0,897.3 232.0,897.9 233.0,897.6 234.0,896.3 235.0,896.1 236.0,897.0 236.4,882.0 238.0,876.0 239.0,876.3 240.0,877.0 241.4,864.0 242.0,852.0 243.6,846.0 244.4,824.0 245.2,848.0 247.0,840.0 248.0,838.8 249.0,836.0 250.0,840.0 251.0,846.0 252.0,848.3 253.0,852.0 254.0,847.3 255.0,842.0 256.0,841.8 257.0,839.5 258.0,838.0 259.0,835.2 260.0,833.0 261.0,833.6 262.0,830.5 263.0,831.0 264.0,822.0 265.0,832.0 266.4,818.0 268.0,815.0 269.0,790.0 270.0,786.4 271.0,781.0 272.0,783.0 273.0,786.0 274.4,792.0 275.7,789.1 277.0,788.0 278.0,788.0 279.0,789.5 280.0,791.0 281.0,798.0 282.0,796.3 283.0,793.0 284.0,796.2 285.0,801.0 286.0,798.7 287.0,796.0 288.0,788.4 289.0,780.0 290.4,766.0 292.0,748.0 293.0,736.0 294.4,730.0 295.6,710.0 295.8,701.0 297.0,711.0 298.0,700.0 299.0,698.0 300.0,696.8 301.0,695.0 302.0,671.0 303.4,648.0 304.4,669.0 306.0,667.0 307.0,672.0 308.6,669.0 309.6,673.9 310.6,681.0 311.8,677.9 313.0,677.0 314.0,678.2 315.0,681.0 316.0,680.0 317.0,678.0 318.0,681.3 319.0,685.0 320.0,710.0 321.6,693.0 322.6,689.5 323.6,687.0 324.8,692.7 326.0,698.0 327.0,703.9 328.0,710.0 329.0,715.5 330.0,722.0 331.0,718.8 332.0,714.0 333.0,716.5 334.0,717.3 335.0,720.0 336.0,722.2 337.0,724.0 338.0,729.1 339.0,734.0 340.0,753.0 341.6,736.0 343.0,734.0 344.0,739.5 345.0,743.0 346.0,742.1 347.0,740.0 348.4,757.0 350.0,749.0 351.0,745.4 352.0,743.0 353.0,742.6 354.0,738.7 355.0,738.0 356.0,734.8 357.0,732.0 358.0,729.7 359.0,726.0 360.0,719.1 361.0,714.0 362.4,706.0 364.0,709.0 365.6,716.0 366.8,714.5 368.0,713.0 369.0,712.5 370.0,714.8 371.0,715.0 372.4,727.0 373.7,726.7 375.0,725.0 376.0,722.7 377.0,720.0 378.0,722.5 379.0,723.0 380.0,720.5 381.0,719.0 382.0,721.5 383.0,723.0 384.0,722.7 385.0,722.2 386.0,721.4 387.0,721.0 388.0,721.4 389.0,721.2 390.0,719.4 391.0,719.0 392.0,719.9 393.0,718.9 394.0,721.0 395.0,721.0 396.0,721.2 397.0,721.9 398.0,721.2 399.0,719.6 400.0,720.0 401.0,719.0 402.0,718.9 403.0,716.5 404.0,717.0 405.0,714.9 406.0,712.1 407.0,711.0 408.0,709.3 409.0,708.5 410.0,709.0 411.2,708.7 412.4,707.0 413.7,702.0 415.0,699.0 416.0,697.0 417.0,696.0 418.0,695.0 419.0,693.3 420.0,688.6 421.0,687.0 422.0,683.4 423.0,680.0 424.4,701.0 426.0,691.0 427.0,689.8 428.0,689.3 429.0,687.0 430.0,686.8 431.0,685.9 432.0,683.4 433.0,683.0 434.0,682.5 435.0,682.1 436.0,683.2 437.0,682.0 438.0,684.2 439.0,683.1 440.0,685.0 441.0,686.2 442.0,688.3 443.0,691.0 444.0,689.8 445.0,690.0 446.0,689.7 447.0,689.0 448.0,686.9 449.0,684.7 450.0,684.3 451.0,683.0 452.0,681.9 453.0,681.7 454.0,681.9 455.0,680.0 456.0,680.5 457.0,680.0 458.0,680.3 459.0,680.5 460.0,680.0 461.0,678.4 462.0,680.2 463.0,679.5 464.0,679.4 465.0,678.0 466.0,675.8 467.0,671.7 468.0,669.0 469.0,665.7 470.0,662.0 471.0,660.3 472.0,657.0 473.0,653.5 474.0,651.1 475.0,649.0 476.0,646.5 477.0,645.0 478.0,640.6 479.0,635.8 480.0,631.7 481.0,629.0 482.0,622.1 483.0,616.0 484.0,611.0 485.0,602.0 486.0,592.4 487.0,585.0 488.4,566.0 489.6,615.0 491.0,583.0 492.0,584.5 493.0,584.0 494.4,601.0 496.0,593.0 497.0,592.3 498.0,590.1 499.0,589.4 500.0,589.0 501.0,588.6 502.0,588.6 503.0,589.0 504.0,591.4 505.0,596.6 506.0,599.0 507.0,600.9 508.0,600.2 509.0,601.0 510.1,605.6 511.3,609.3 512.4,615.0 514.0,605.0 515.0,603.7 516.0,604.1 517.0,603.6 518.0,604.0 519.0,603.5 520.0,600.5 521.0,600.0 522.0,598.3 523.0,600.2 524.0,598.6 525.0,598.0 526.0,595.1 527.0,594.1 528.0,590.8 529.0,590.0 530.0,590.3 531.0,591.7 532.0,591.7 533.0,591.0 534.0,590.8 535.0,589.0 536.0,589.0 537.6,597.0 538.8,590.7 540.0,585.0 541.0,579.5 542.0,576.4 543.0,571.0 544.0,568.4 545.0,566.4 546.0,563.0 547.0,554.6 548.0,547.0 549.0,535.3 550.0,525.0 551.0,518.8 552.0,511.0 553.0,507.8 554.0,502.0 555.4,519.0 556.4,513.0 558.0,532.0 559.0,527.4 560.0,521.0 561.0,518.5 562.0,515.2 563.0,511.0 564.0,513.0 565.0,513.0 566.0,515.0 567.0,515.2 568.0,515.0 569.0,514.4 570.0,514.6 571.0,516.0 572.0,518.4 573.0,521.4 574.0,525.0 575.0,527.5 576.0,530.2 577.0,531.0 578.0,528.5 579.0,527.5 580.0,524.0 581.0,526.3 582.0,527.2 583.0,527.0 584.0,529.3 585.0,531.6 586.0,535.0 587.0,538.3 588.0,542.2 589.0,547.0 590.0,539.7 591.0,534.0 592.0,535.8 593.0,538.0 594.0,539.4 595.0,540.0 596.0,539.5 597.0,539.6 598.0,539.6 599.0,537.3 600.0,538.0 601.0,533.4 602.0,528.0 603.0,526.6 604.0,523.0 605.0,525.7 606.0,527.7 607.0,529.0 608.0,527.6 609.0,525.5 610.0,525.0 611.0,525.4 612.0,523.9 613.0,524.0 614.0,525.5 615.0,526.7 616.0,526.0 617.0,527.0 618.0,527.1 619.0,529.0 620.0,528.8 621.0,527.7 622.0,529.0 623.0,530.4 624.0,532.8 625.0,536.0 626.0,536.4 627.0,535.5 628.0,534.0 629.0,534.1 630.0,536.8 631.0,538.2 632.0,538.0 633.0,540.4 634.0,541.6 635.0,544.1 636.0,546.0 637.0,548.0 638.0,552.0 639.0,548.1 640.0,547.9 641.0,544.0 642.0,545.9 643.0,547.0 644.0,548.7 645.0,551.5 646.0,552.0 647.0,548.5 648.0,546.3 649.0,542.0 650.0,544.8 651.0,545.2 652.0,548.0 653.0,546.4 654.0,545.5 655.0,545.0 656.0,545.6 657.0,547.7 658.0,548.1 659.0,550.0 660.0,550.8 661.0,551.0 662.0,554.1 663.0,554.0 664.0,556.6 665.0,560.0 666.4,578.0 668.0,568.0 669.0,563.9 670.0,560.0 671.6,568.0 672.7,566.9 673.9,566.4 675.0,564.0 676.0,564.3 677.0,565.0 678.0,562.6 679.0,558.0 680.0,557.3 681.0,556.7 682.0,556.0 683.0,557.7 684.0,558.1 685.0,561.0 686.0,560.5 687.0,559.5 688.0,560.0 689.0,561.4 690.0,566.1 691.0,568.0 692.0,566.4 693.0,566.4 694.0,566.3 695.0,565.0 696.0,564.9 697.0,564.0 698.0,564.3 699.0,564.0 700.0,564.8 701.0,566.1 702.0,566.0 703.0,565.6 704.0,567.5 705.0,568.0 706.0,566.1 707.0,564.9 708.0,565.0 709.0,563.0 710.0,562.4 711.0,561.8 712.0,561.0 713.2,559.3 714.4,557.4 715.6,554.0 716.8,555.4 718.0,557.0 719.0,557.3 720.0,557.0 721.0,557.0 722.0,558.4 723.0,560.2 724.0,561.0 725.0,563.5 726.0,566.4 727.0,569.0 728.0,567.3 729.0,566.8 730.0,564.0 731.0,565.2 732.0,566.3 733.0,566.0 734.0,567.1 735.0,565.4 736.0,566.2 737.0,566.0 738.0,566.2 739.0,564.9 740.0,562.1 741.0,562.0 742.0,559.3 743.0,558.5 744.0,557.0 745.0,552.4 746.0,550.0 747.6,542.0 749.0,554.0 750.0,550.3 751.0,548.0 752.0,548.9 753.0,552.0 754.0,548.4 755.0,544.0 756.0,543.1 757.0,541.7 758.0,539.0 759.0,537.8 760.0,538.9 761.0,538.0 762.0,539.1 763.0,538.4 764.0,540.0 765.0,540.0 766.0,538.0 767.0,541.2 768.0,541.3 769.0,544.0 770.0,546.7 771.0,547.0 772.0,546.1 773.0,545.6 774.0,545.0 775.0,544.6 776.0,542.5 777.0,540.0 778.0,539.1 779.0,540.0 780.0,541.8 781.0,544.0 782.0,543.5 783.0,542.6 784.0,541.7 785.0,542.0 786.0,541.5 787.0,542.6 788.0,540.8 789.0,542.0 790.0,541.6 791.0,540.8 792.0,539.2 793.0,540.0 794.0,539.1 795.0,539.3 796.0,538.5 797.0,538.0 798.0,537.2 799.0,539.9 800.0,539.0 801.0,539.7 802.0,540.2 803.0,539.0 804.0,534.5 805.0,532.0 806.0,529.4 807.0,528.0 808.6,524.0 810.0,517.0 811.6,524.0 812.8,521.3 814.0,521.0 815.0,522.4 816.0,521.7 817.0,523.0 818.0,521.7 819.0,522.1 820.0,522.0 821.0,525.1 822.0,526.0 823.0,532.0 824.0,531.3 825.0,529.0 826.0,528.4 827.0,528.1 828.0,530.1 829.0,529.0 830.0,528.2 831.0,527.5 832.0,526.0 833.0,525.2 834.0,525.3 835.0,527.2 836.0,527.0 837.0,526.6 838.0,525.4 839.0,527.4 840.0,526.0 841.0,525.8 842.0,525.8 843.0,523.4 844.0,524.0 845.0,523.7 846.0,520.4 847.0,521.2 848.0,519.0 849.0,519.2 850.0,519.2 851.0,520.0 852.0,519.5 853.0,519.8 854.0,518.0 855.0,517.0 856.0,516.2 857.0,516.9 858.0,515.7 859.0,516.0 860.0,513.7 861.0,512.5 862.0,512.0 863.2,508.8 864.4,508.0 865.6,503.0 867.0,516.0 868.0,513.2 869.0,512.0 870.0,510.2 871.0,508.8 872.0,508.0 873.0,507.7 874.0,505.5 875.0,505.0 876.0,505.5 877.0,506.0 878.0,502.8 879.0,500.9 880.0,499.0 881.2,496.2 882.4,496.0 883.7,497.4 885.0,500.0 886.0,502.7 887.0,508.0 888.0,505.6 889.0,502.0 890.0,501.1 891.0,499.2 892.0,499.0 893.0,497.9 894.0,498.1 895.0,496.0 896.0,492.6 897.0,492.2 898.0,489.0 899.0,486.5 900.0,484.3 901.0,482.0 902.0,480.2 903.0,476.4 904.0,474.0 905.0,471.4 906.0,469.2 907.0,466.0 908.0,465.3 909.0,462.0 910.0,463.3 911.0,466.2 912.0,467.0 913.0,468.0 914.0,468.4 915.0,468.3 916.0,469.0 917.2,474.1 918.4,480.0 920.0,468.0 921.0,464.2 922.0,461.7 923.0,460.0 924.0,453.9 925.0,450.0 926.0,449.3 927.0,446.7 928.0,446.0 929.0,443.8 930.0,442.3 931.0,442.0 932.3,445.9 933.6,448.0 934.6,454.0 935.6,458.0 936.8,454.4 938.0,450.0 939.0,447.4 940.0,445.3 941.0,444.0 942.0,440.8 943.0,438.6 944.0,436.0 945.0,433.4 946.0,432.5 947.0,431.0 948.0,427.9 949.0,426.0 950.4,434.0 951.4,430.2 952.4,424.0 953.7,422.2 955.0,418.0 956.0,413.1 957.0,408.0 958.6,394.0 959.6,389.8 960.6,387.0 962.4,397.0 963.4,400.7 964.4,402.0 965.4,397.0 966.4,393.0 967.4,397.1 968.4,402.0 969.7,403.7 971.0,408.0 972.0,410.2 973.0,413.0 974.0,420.4 975.0,428.0 976.0,422.0 977.0,416.0 978.0,411.7 979.0,409.0 980.0,411.0 981.0,413.0 982.6,408.0 984.4,416.0 985.7,416.2 987.0,419.0 988.0,421.9 989.0,426.0 990.3,426.9 991.6,430.0 992.8,426.7 994.0,424.0 995.0,420.1 996.0,417.4 997.0,416.0 998.0,415.5 999.0,415.3 1000.0,416.0 1001.0,418.2 1002.0,420.1 1003.0,422.0 1004.0,424.0 1005.0,425.1 1006.0,426.0 1007.0,427.9 1008.0,429.7 1009.0,430.0 1010.0,431.0 1011.0,432.0 1012.0,435.0 1013.0,435.0 1014.0,433.3 1015.0,434.1 1016.0,433.1 1017.0,432.0 1018.0,430.3 1019.0,431.0 1020.3,426.9 1021.6,421.0 1022.8,424.5 1024.0,426.0 1025.0,429.8 1026.0,433.0 1027.0,433.3 1028.0,433.1 1029.0,432.0 1030.0,429.4 1031.0,428.7 1032.0,427.0 1033.0,429.5 1034.0,432.0 1035.0,432.6 1036.0,432.3 1037.0,432.1 1038.0,431.0 1039.0,431.0 1040.0,431.5 1041.0,430.7 1042.0,430.0 1043.0,430.9 1044.0,430.1 1045.0,430.0 1046.0,430.6 1047.0,432.0 1048.0,431.4 1049.0,430.6 1050.0,432.3 1051.0,431.4 1052.0,431.0 1053.0,435.8 1054.0,440.0 1055.0,445.3 1056.0,450.0 1057.0,452.0 1058.0,453.0 1059.0,455.0 1060.0,455.7 1061.0,459.0 1062.0,455.8 1063.0,451.0 1064.0,452.6 1065.0,453.0 1066.0,451.5 1067.0,450.0 1068.0,451.4 1069.0,453.1 1070.0,454.0 1071.0,453.5 1072.0,455.9 1073.0,456.0 1074.0,455.7 1075.0,455.6 1076.0,457.0 1077.0,455.1 1078.0,454.9 1079.0,453.0 1080.0,450.2 1081.0,449.0 1082.0,451.6 1083.0,453.0 1084.0,453.6 1085.0,451.7 1086.0,451.0 1087.0,450.7 1088.0,450.9 1089.0,451.0 1090.0,447.0 1091.0,442.0 1092.0,441.2 1093.0,439.0 1094.0,439.6 1095.0,440.0 1096.0,440.0 1097.0,437.6 1098.0,436.4 1099.0,436.0 1100.0,432.0 1101.0,430.0 1102.0,426.0 1103.0,423.5 1104.0,422.0 1105.0,422.7 1106.0,423.0 1107.0,420.4 1108.0,419.2 1109.0,419.0 1110.0,419.9 1111.0,422.0 1112.0,417.4 1113.0,412.0 1114.0,408.0 1115.0,403.0 1116.4,411.0 1117.4,408.5 1118.4,405.0 1119.4,409.0 1120.4,414.0 1121.7,414.0 1123.0,414.0 1124.0,411.6 1125.0,409.2 1126.0,407.0 1127.0,408.5 1128.0,412.0 1129.0,412.7 1130.0,410.6 1131.0,411.0 1132.0,414.2 1133.0,415.0 1134.0,415.1 1135.0,411.7 1136.0,412.0 1137.0,412.2 1138.0,413.5 1139.0,413.0 1140.0,418.7 1141.0,422.0 1142.0,422.2 1143.0,422.1 1144.0,423.0 1145.0,422.9 1146.0,425.5 1147.0,425.0 1148.0,419.7 1149.0,416.0 1150.0,416.9 1151.0,416.4 1152.0,418.0 1153.0,419.7 1154.0,422.5 1155.0,423.0 1156.0,424.5 1157.0,428.0 1158.0,427.8 1159.0,426.0 1160.0,425.0 1161.2,428.5 1162.4,430.0 1163.7,428.5 1165.0,426.0 1166.0,425.8 1167.0,427.0 1168.0,425.4 1169.0,421.6 1170.0,419.0 1171.0,417.4 1172.0,417.0 1173.0,418.0 1174.0,417.0 1175.0,415.9 1176.0,415.0 1177.0,413.5 1178.0,412.1 1179.0,412.0 1180.0,412.6 1181.0,413.5 1182.0,415.0 1183.0,417.6 1184.0,417.0 1185.0,420.0 1186.4,443.0 1187.4,440.2 1188.4,436.0 1189.7,434.9 1191.0,432.0 1192.0,429.7 1193.0,430.4 1194.0,428.0 1195.0,428.9 1196.0,429.7 1197.0,429.0 1198.0,425.5 1199.0,422.7 1200.0,420.0 1201.0,416.7 1202.0,414.0 1203.0,416.6 1204.0,416.9 1205.0,418.0 1206.0,416.4 1207.0,415.3 1208.0,413.7 1209.0,413.0 1210.0,412.5 1211.0,413.3 1212.0,415.0 1213.0,416.4 1214.0,415.4 1215.0,417.6 1216.0,417.0 1217.0,416.3 1218.0,416.4 1219.0,417.0 1220.0,417.0 1221.0,415.9 1222.0,416.0 1223.0,416.0 1224.0,413.7 1225.0,409.0 1226.0,409.3 1227.0,408.5 1228.0,407.0 1229.0,407.0 1230.0,407.4 1231.0,406.0 1232.0,407.8 1233.0,407.5 1234.0,408.0 1235.0,411.1 1236.0,413.0 1237.0,411.6 1238.0,413.1 1239.0,412.1 1240.0,412.0 1241.0,412.4 1242.0,411.9 1243.0,410.7 1244.0,411.0 1245.0,408.6 1246.0,409.6 1247.0,406.3 1248.0,406.0 1249.0,403.9 1250.0,401.6 1251.0,400.0 1252.0,397.8 1253.0,397.3 1254.0,395.0 1255.0,393.7 1256.0,390.0 1257.0,388.7 1258.0,389.1 1259.0,388.0 1260.0,387.1 1261.0,387.5 1262.0,387.0 1263.0,383.2 1264.0,380.0 1265.0,376.5 1266.0,373.8 1267.0,372.0 1268.0,364.7 1269.0,359.0 1270.4,357.0 1271.4,361.1 1272.4,363.0 1273.4,365.5 1274.4,368.0 1275.7,363.3 1277.0,360.0 1278.0,356.6 1279.0,351.0 1280.0,350.0 1281.0,346.2 1282.0,344.0 1283.0,347.6 1284.0,353.0 1285.2,348.2 1286.4,345.0 1288.0,341.0 1289.0,340.6 1290.0,341.9 1291.0,343.0 1292.0,341.6 1293.0,341.7 1294.0,342.0 1295.2,339.9 1296.4,339.0 1297.7,343.7 1299.0,348.0 1300.0,347.3 1301.0,345.3 1302.0,343.0 1303.0,344.8 1304.0,347.0 1305.0,353.3 1306.0,360.0 1307.0,361.6 1308.0,363.0 1309.0,362.0 1310.0,361.2 1311.0,361.0 1312.0,358.4 1313.0,358.0 1314.3,361.9 1315.6,367.0 1316.8,366.2 1318.0,363.0 1319.0,362.7 1320.0,364.3 1321.0,365.0 1322.0,367.3 1323.0,369.0 1324.0,364.9 1325.0,359.0 1326.0,356.3 1327.0,354.4 1328.0,353.0 1329.0,351.3 1330.0,350.7 1331.0,350.0 1332.0,349.5 1333.0,350.5 1334.0,349.0 1335.3,348.9 1336.6,347.0 1337.7,351.3 1338.9,352.4 1340.0,357.0 1341.2,354.3 1342.4,354.0 1343.4,350.5 1344.4,346.0 1345.7,344.0 1347.0,340.0 1348.0,339.3 1349.0,338.9 1350.0,338.0 1351.2,336.0 1352.4,336.4 1353.6,336.0 1354.7,338.8 1355.9,340.2 1357.0,341.0 1358.0,342.9 1359.0,344.2 1360.0,344.0 1361.0,345.3 1362.0,347.0 1363.0,350.0 1364.0,348.8 1365.0,349.4 1366.0,349.0 1367.0,350.8 1368.0,352.8 1369.0,353.0 1370.0,354.6 1371.0,355.4 1372.0,356.0 1373.2,360.2 1374.4,363.0 1375.7,359.4 1377.0,356.0 1378.0,355.1 1379.0,352.8 1380.0,353.0 1381.0,356.1 1382.0,357.0 1383.0,360.0 1384.0,359.8 1385.0,357.9 1386.0,355.7 1387.0,355.0 1388.0,354.4 1389.0,355.0 1390.0,356.0 1391.0,354.7 1392.0,353.2 1393.0,351.0 1394.0,351.7 1395.0,353.2 1396.0,356.0 1397.0,356.6 1398.0,357.2 1399.0,357.2 1400.0,358.0 1401.0,357.9 1402.0,359.6 1403.0,360.0 1404.4,370.0 1405.6,369.1 1406.8,370.2 1408.0,371.0 1409.0,369.9 1410.0,370.2 1411.0,368.0 1412.0,369.4 1413.0,370.0 1414.0,384.0 1415.6,388.0 1416.8,387.0 1418.0,384.0 1419.2,385.4 1420.4,387.0 1421.7,383.8 1423.0,382.0 1424.0,380.3 1425.0,380.0 1426.0,381.5 1427.0,381.2 1428.0,381.0 1429.0,379.0 1430.0,378.0 1431.0,379.3 1432.0,383.0 1433.0,384.3 1434.0,386.1 1435.0,387.0 1436.3,384.3 1437.6,382.0 1438.8,384.9 1440.0,389.0 1441.0,388.4 1442.0,388.1 1443.0,386.0 1444.0,386.0 1445.0,386.1 1446.0,388.0 1447.0,387.3 1448.0,387.3 1449.0,387.7 1450.0,387.0 1451.0,384.9 1452.0,385.1 1453.0,383.0 1454.0,389.1 1455.0,394.0 1456.0,394.7 1457.0,394.6 1458.0,396.0 1459.0,396.2 1460.0,393.5 1461.0,393.0 1462.0,393.2 1463.0,391.0 1464.0,391.0 1465.0,391.3 1466.0,393.7 1467.0,394.0 1468.0,393.2 1469.0,394.7 1470.0,393.2 1471.0,393.0 1472.0,387.7 1473.0,384.0 1474.0,381.3 1475.0,380.0 1476.0,379.1 1477.0,379.1 1478.0,378.0 1479.0,381.2 1480.0,382.0 1481.0,379.4 1482.0,378.4 1483.0,377.0 1484.0,377.3 1485.0,380.2 1486.0,380.0 1487.0,382.1 1488.0,386.0 1489.0,378.8 1490.0,374.0 1491.0,371.9 1492.0,371.7 1493.0,371.0 1494.0,371.5 1495.0,371.0 1496.0,370.1 1497.0,369.0 1498.0,371.0 1499.0,371.5 1500.0,371.0 1501.0,370.2 1502.0,369.5 1503.0,370.0 1504.0,372.1 1505.0,372.6 1506.0,373.0 1507.0,372.0 1508.0,373.9 1509.0,373.4 1510.0,374.0 1511.0,374.2 1512.0,374.6 1513.0,374.6 1514.0,376.0 1515.0,372.4 1516.0,370.8 1517.0,369.0 1518.0,368.4 1519.0,369.7 1520.0,367.3 1521.0,368.0 1522.0,369.7 1523.0,368.2 1524.0,369.1 1525.0,370.0 1526.0,370.8 1527.0,370.8 1528.0,369.8 1529.0,368.8 1530.0,370.0 1531.0,371.3 1532.0,372.3 1533.0,374.0 1534.0,375.4 1535.0,373.9 1536.0,375.0 1537.0,374.9 1538.0,376.5 1539.0,374.5 1540.0,376.0 1541.0,375.1 1542.0,375.5 1543.0,374.0 1544.0,374.5 1545.0,372.4 1546.0,372.2 1547.0,372.1 1548.0,373.0 1549.0,371.4 1550.0,367.0 1551.0,365.0 1552.0,365.0 1553.0,364.7 1554.0,363.0 1555.0,361.9 1556.0,361.1 1557.0,361.0 1558.0,361.9 1559.0,360.6 1560.0,360.0 1561.2,356.9 1562.4,355.0 1563.6,355.6 1564.8,354.5 1566.0,355.0 1567.0,354.1 1568.0,353.0 1569.0,354.0 1570.3,353.2 1571.6,351.0 1572.8,354.1 1574.0,355.0 1575.2,356.8 1576.4,358.0 1577.7,357.7 1579.0,355.0 1580.0,350.8 1581.0,349.0 1582.0,347.6 1583.0,347.6 1584.0,347.0 1585.0,344.7 1586.0,340.0 1587.0,339.2 1588.0,335.7 1589.0,334.0 1590.0,336.4 1591.0,340.0 1592.0,337.8 1593.0,336.0 1594.0,335.6 1595.0,336.4 1596.0,335.0 1597.0,335.5 1598.0,338.5 1599.0,339.0 1600.0,339.1 1601.0,338.0 1602.3,340.8 1603.6,342.0 1604.8,341.2 1606.0,339.0 1607.0,337.9 1608.0,335.9 1609.0,335.0 1610.0,334.5 1611.0,334.6 1612.0,335.0 1613.0,336.4 1614.0,335.2 1615.0,337.0 1616.0,337.2 1617.0,339.7 1618.0,340.0 1619.2,341.0 1620.4,342.2 1621.6,345.0 1622.8,340.8 1624.0,339.0 1625.0,338.5 1626.0,337.2 1627.0,337.0 1628.0,341.2 1629.0,344.0 1630.0,346.0 1631.0,345.3 1632.0,341.4 1633.0,340.0 1634.3,338.4 1635.6,339.0 1637.0,341.5 1638.4,346.0 1639.7,344.0 1641.0,342.0 1642.0,341.2 1643.0,339.2 1644.0,338.0 1645.0,338.3 1646.0,339.8 1647.0,341.0 1648.0,340.0 1649.0,338.8 1650.0,337.0 1651.0,337.4 1652.0,337.4 1653.0,336.7 1654.0,336.0 1655.0,330.5 1656.0,327.0 1657.0,326.2 1658.0,323.1 1659.0,322.0 1660.0,321.8 1661.0,321.0 1662.0,321.0 1663.0,321.4 1664.0,319.7 1665.0,319.6 1666.0,320.0 1667.0,320.0 1668.0,320.4 1669.0,322.0 1670.0,323.3 1671.0,322.9 1672.0,323.0 1673.0,321.5 1674.0,320.7 1675.0,321.3 1676.0,319.0 1677.0,319.5 1678.0,319.3 1679.0,321.3 1680.0,321.0 1681.0,321.6 1682.0,322.8 1683.0,320.7 1684.0,322.0 1685.0,323.6 1686.0,326.2 1687.0,327.0 1688.0,328.9 1689.0,330.1 1690.0,330.0 1691.0,327.8 1692.0,327.5 1693.0,327.0 1694.0,327.0 1695.0,328.2 1696.0,331.2 1697.0,331.0 1698.0,329.9 1699.0,329.5 1700.0,327.0 1701.0,325.3 1702.0,325.3 1703.0,323.0 1704.0,321.9 1705.0,320.4 1706.0,320.0 1707.2,319.7 1708.4,319.2 1709.6,317.0 1710.7,316.6 1711.9,318.6 1713.0,319.0 1714.0,319.6 1715.0,318.9 1716.0,320.0 1717.0,319.4 1718.0,318.6 1719.0,318.5 1720.0,319.0 1721.0,317.4 1722.0,317.3 1723.0,316.4 1724.0,315.0 1725.0,314.2 1726.0,313.7 1727.0,314.6 1728.0,315.0 1729.0,315.2 1730.0,313.7 1731.0,313.8 1732.0,314.0 1733.0,313.9 1734.0,316.1 1735.0,316.0 1736.0,316.8 1737.0,316.2 1738.0,318.0 1739.0,316.5 1740.0,316.7 1741.0,316.6 1742.0,316.0 1743.0,316.0 1744.0,314.3 1745.0,315.0 1746.3,313.1 1747.6,313.0 1748.8,315.5 1750.0,317.0 1751.0,316.4 1752.0,315.8 1753.0,316.0 1754.0,316.5 1755.0,319.2 1756.0,319.0 1757.0,320.5 1758.0,323.2 1759.0,325.0 1760.0,325.6 1761.0,327.0 1762.0,326.3 1763.0,326.9 1764.0,326.8 1765.0,325.0 1766.0,325.3 1767.0,325.5 1768.0,327.0 1769.0,327.1 1770.0,325.2 1771.0,324.2 1772.0,325.0 1773.0,325.4 1774.0,323.5 1775.0,323.0 1776.0,324.8 1777.0,324.8 1778.0,326.0 1779.0,329.5 1780.0,331.0 1781.6,339.0 1782.8,337.4 1784.0,336.0 1785.0,335.5 1786.0,335.4 1787.0,337.0" fill="none" stroke="#000" stroke-width="3.4" stroke-linejoin="round" stroke-linecap="round"/>
<!-- right axis -->
<line x1="1801.8" x2="1801.8" y1="228.2" y2="914.8" stroke="#000" stroke-width="3.2"/>
<g font-size="18.2" fill="#555" stroke="#555" stroke-width="0.3"><text x="183.5" y="234.3" text-anchor="end">100</text><text x="183.5" y="316.3" text-anchor="end">50</text><text x="183.5" y="424.7" text-anchor="end">20</text><text x="183.5" y="506.6" text-anchor="end">10</text><text x="183.5" y="588.6" text-anchor="end">5</text><text x="183.5" y="697.0" text-anchor="end">2</text><text x="183.5" y="779.0" text-anchor="end">1</text><text x="183.5" y="861.0" text-anchor="end">0.5</text></g>
<g font-size="18.1" fill="#555" stroke="#555" stroke-width="0.3"><text x="1817.5" y="234.1">$1m</text><text x="1817.5" y="327.1">$100k</text><text x="1817.5" y="420.1">$10k</text><text x="1817.5" y="513.1">$1k</text><text x="1817.5" y="605.6">$100</text><text x="1817.5" y="698.6">$10</text><text x="1817.5" y="791.1">$1</text><text x="1817.5" y="884.1">$0.10</text></g>
<g font-size="19.3" fill="#555" stroke="#555" stroke-width="0.3" letter-spacing="0.7"><text x="260.7" y="956.4" text-anchor="middle">2011</text><text x="361.4" y="956.4" text-anchor="middle">2012</text><text x="462.1" y="956.4" text-anchor="middle">2013</text><text x="562.9" y="956.4" text-anchor="middle">2014</text><text x="663.6" y="956.4" text-anchor="middle">2015</text><text x="764.3" y="956.4" text-anchor="middle">2016</text><text x="865.0" y="956.4" text-anchor="middle">2017</text><text x="965.7" y="956.4" text-anchor="middle">2018</text><text x="1066.5" y="956.4" text-anchor="middle">2019</text><text x="1167.2" y="956.4" text-anchor="middle">2020</text><text x="1267.9" y="956.4" text-anchor="middle">2021</text><text x="1368.6" y="956.4" text-anchor="middle">2022</text><text x="1469.3" y="956.4" text-anchor="middle">2023</text><text x="1570.1" y="956.4" text-anchor="middle">2024</text><text x="1670.8" y="956.4" text-anchor="middle">2025</text><text x="1771.5" y="956.4" text-anchor="middle">2026</text></g>
<!-- logo -->
<use href="#gn" color="#1c1c1c"/>
</svg>
<div id="foot"><span class="fw" style="left:52.0px;letter-spacing:0.0px">©</span><span class="fw" style="left:80.25px;letter-spacing:2.583px">2026</span><span class="fw" style="left:148.5px;letter-spacing:1.25px">Glassnode.</span><span class="fw" style="left:288.75px;letter-spacing:0.625px">All</span><span class="fw" style="left:323.0px;letter-spacing:1.25px">Rights</span><span class="fw" style="left:403.5px;letter-spacing:1.344px">Reserved.</span></div>
</div>
</body></html>
